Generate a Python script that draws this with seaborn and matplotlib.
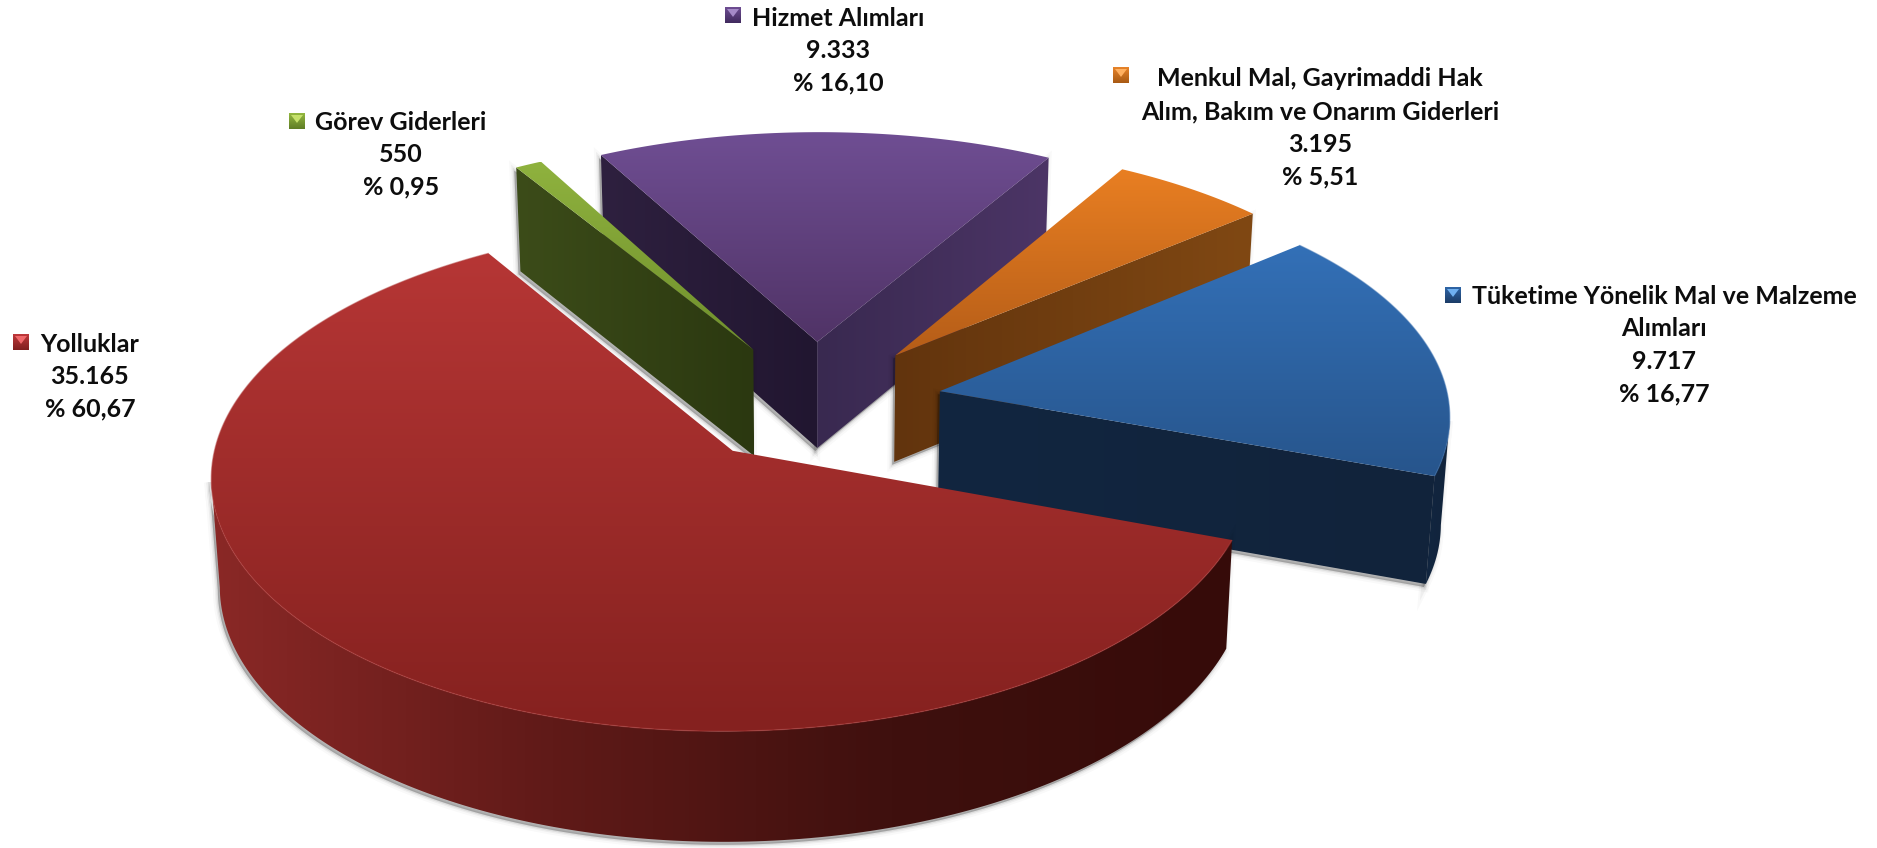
# 3D exploded pie of expense items, drawn with a hand made perspective projection

import matplotlib
matplotlib.use("Agg")
import matplotlib.pyplot as plt
import numpy as np
import seaborn as sns
from matplotlib.patches import Polygon

sns.set_theme(style="white")
plt.rcParams["font.family"] = ["Lato", "DejaVu Sans"]

# Data, clockwise starting at the right hand edge of the red slice
categories = ["Yolluklar", "Görev Giderleri", "Hizmet Alımları", "Menkul Mal", "Tüketime"]
values = [35165, 550, 9333, 3195, 9717]
value_labels = ["35.165", "550", "9.333", "3.195", "9.717"]
pct_labels = ["% 60,67", "% 0,95", "% 16,10", "% 5,51", "% 16,77"]
name_lines = [
    ["Yolluklar"],
    ["Görev Giderleri"],
    ["Hizmet Alımları"],
    ["Menkul Mal, Gayrimaddi Hak", "Alım, Bakım ve Onarım Giderleri"],
    ["Tüketime Yönelik Mal ve Malzeme", "Alımları"],
]

# Colours per slice: top (back to front), wall (left to right), marker
top_colors = [
    ["#b63635", "#85211f"],
    ["#8fb23e", "#6f8f2c"],
    ["#6f4e93", "#503366"],
    ["#e97f22", "#b55d18"],
    ["#3370b7", "#27558c"],
]
wall_colors = [
    ["#8a2826", "#601a18", "#3f100e", "#360b09"],
    ["#3c4c19", "#2b3810"],
    ["#2e203f", "#211630", "#392950", "#4c3566"],
    ["#62340d", "#804813"],
    ["#122640", "#11233b"],
]
marker_colors = [
    ["#c0393b", "#7f1f1f", "#f0686a"],
    ["#94b840", "#5f7d25", "#c5e06a"],
    ["#6f4e93", "#402a5e", "#a58ac8"],
    ["#e8842a", "#a85a14", "#ffb060"],
    ["#2f66a8", "#1c3c66", "#6fb0f0"],
]
draw_order = [2, 1, 3, 4, 0]

# Layout of the pie in pixels
cx, cy = 815, 402
rad_x, rad_y = 509, 242
explode_x, explode_y = 0.25, 0.255
persp_x, persp_y = 0.09, 0.1
shear = 2
start_angle = 20
wall_h, wall_slope = 107, 3
taper = 0.014

# Label layout: text centre x, first line y, marker left x, marker top y, font size
label_x = [90, 401, 838, 1320, 1664]
label_y = [344, 122, 18, 79, 296]
marker_x = [13, 289, 725, 1113, 1445]
marker_y = [334, 113, 7, 67, 287]
label_size = [18, 18, 18, 18, 18]
line_step = 32.7


def project(u, v):
    sx = 1 / (1 - persp_x * v)
    sy = 1 / (1 - persp_y * v)
    return cx + rad_x * u * sx - shear * v, cy + rad_y * v * sy


def drop(x, v):
    # bottom rim of the solid for a point on the top surface
    return x - (x - cx) * taper, wall_h + wall_slope * v


def gradient_fill(ax, pts, colors, vertical=True, span=None, zorder=1):
    pts = np.asarray(pts)
    cmap = sns.blend_palette(colors, n_colors=256, as_cmap=True)
    x0, x1 = pts[:, 0].min(), pts[:, 0].max()
    y0, y1 = pts[:, 1].min(), pts[:, 1].max()
    if span is not None:
        x0, x1 = span
    ramp = np.linspace(0, 1, 256)
    ramp = ramp[:, None] if vertical else ramp[None, :]
    im = ax.imshow(ramp, cmap=cmap, extent=(x0, x1, y1, y0), origin="upper" if vertical else "lower",
                   aspect="auto", interpolation="bilinear", zorder=zorder, vmin=0, vmax=1)
    poly = Polygon(pts, closed=True, transform=ax.transData, facecolor="none", edgecolor="none")
    ax.add_patch(poly)
    im.set_clip_path(poly)
    return im


fig = plt.figure(figsize=(18.77, 8.48), dpi=100, facecolor="white")
ax = fig.add_axes([0, 0, 1, 1])
ax.set_axis_off()

angles = start_angle + np.concatenate([[0], np.cumsum(values)]) / np.sum(values) * 360
z = 1

for i in draw_order:
    a0, a1 = angles[i], angles[i + 1]
    mid = np.radians((a0 + a1) / 2)
    ou, ov = explode_x * np.cos(mid), explode_y * np.sin(mid)

    arc_deg = np.linspace(a0, a1, 240)
    arc = np.radians(arc_deg)
    au = ou + np.cos(arc)
    av = ov + np.sin(arc)
    ax_, ay_ = project(au, av)
    px, py = project(ou, ov)
    top = np.vstack([[px, py], np.column_stack([ax_, ay_])])

    faces = []

    # outer wall between the left and right silhouette points of this slice's circle
    turn = np.arange(-90, 270, 0.25)
    turn_x, _ = project(ou + np.cos(np.radians(turn)), ov + np.sin(np.radians(turn)))
    t_right, t_left = turn[np.argmax(turn_x)], turn[np.argmin(turn_x)]
    norm_deg = (arc_deg + 90) % 360 - 90
    front = (norm_deg >= t_right) & (norm_deg <= t_left)
    if front.any():
        fx, fy = ax_[front], ay_[front]
        bx, bh = drop(fx, av[front])
        faces.append(("arc", np.vstack([np.column_stack([fx, fy]),
                                        np.column_stack([bx, fy + bh])[::-1]])))

    # radial walls, culled when they face away
    pbx, pbh = drop(px, ov)
    if np.sin(np.radians(a0 - 90)) > 0:
        ex, ey = ax_[0], ay_[0]
        ebx, ebh = drop(ex, av[0])
        faces.append(("r0", np.array([[px, py], [ex, ey], [ebx, ey + ebh], [pbx, py + pbh]])))
    if np.sin(np.radians(a1 + 90)) > 0:
        ex, ey = ax_[-1], ay_[-1]
        ebx, ebh = drop(ex, av[-1])
        faces.append(("r1", np.array([[px, py], [ex, ey], [ebx, ey + ebh], [pbx, py + pbh]])))

    # soft shadow below the solid
    for grow, alpha in [(7, 0.05), (4, 0.09), (2, 0.14)]:
        for name, pts in faces:
            ax.add_patch(Polygon(pts + [-2, 3], closed=True, facecolor=(0, 0, 0, alpha), linewidth=0,
                                 edgecolor="none", zorder=z))
            ax.add_patch(Polygon(pts + [-2, 3], closed=True, fill=False, linewidth=grow,
                                 edgecolor=(0, 0, 0, alpha * 0.5), zorder=z))
    z += 1

    for name, pts in faces:
        cols = wall_colors[i]
        if i == 2:
            # purple has two walls meeting at the apex, each with its own shade
            cols = cols[:2] if name == "r0" else cols[2:]
        span = (209, 1232) if i == 0 else None
        gradient_fill(ax, pts, cols, vertical=False, span=span, zorder=z)
        z += 1

    gradient_fill(ax, top, top_colors[i], vertical=True, zorder=z)
    z += 1

    if i in (0, 4):
        rim = sns.desaturate(top_colors[i][0], 0.9)
        ax.plot(ax_, ay_, color=rim, lw=1.0, alpha=0.5, zorder=z, solid_capstyle="butt")
        z += 1

# Labels
for i, lines in enumerate(name_lines):
    rows = lines + [value_labels[i], pct_labels[i]]
    for j, row in enumerate(rows):
        ax.text(label_x[i], label_y[i] + j * line_step, row, ha="center", va="center",
                fontsize=label_size[i], fontweight="bold", color="#0d0d0d", zorder=z + 5)
    mx, my = marker_x[i], marker_y[i]
    size = 16
    c_light, c_dark, c_tri = marker_colors[i]
    box = np.array([[mx, my], [mx + size, my], [mx + size, my + size], [mx, my + size]])
    gradient_fill(ax, box, [c_light, c_dark], vertical=True, zorder=z + 1)
    ax.add_patch(Polygon([[mx + 2, my + 2], [mx + size - 2, my + 2], [mx + size / 2, my + size * 0.62]],
                         closed=True, facecolor=c_tri, edgecolor="none", zorder=z + 2))

ax.set_xlim(0, 1877)
ax.set_ylim(848, 0)

fig.savefig("out.png", dpi=100)
